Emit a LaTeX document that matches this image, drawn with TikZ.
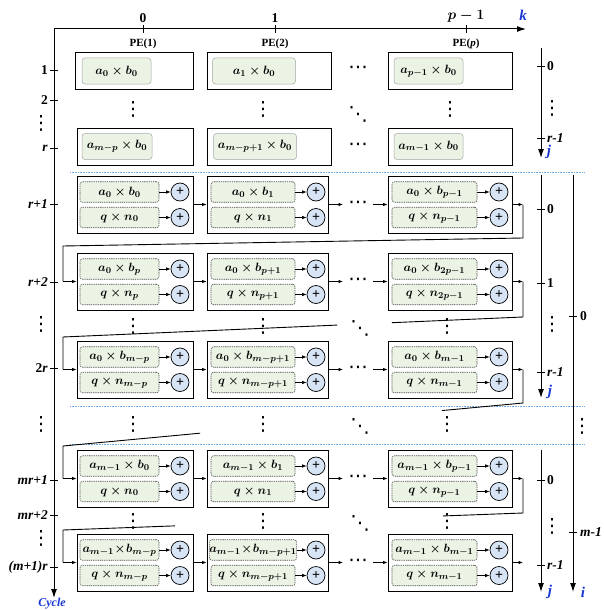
\documentclass[tikz,border=0pt]{standalone}
\usepackage{fontspec}
\setmainfont{Liberation Serif}
\newfontfamily\djv{DejaVu Sans}
\usetikzlibrary{arrows.meta,calc}
\definecolor{kblue}{RGB}{25,55,215}
\definecolor{cellgreen}{RGB}{234,243,228}
\definecolor{addblue}{RGB}{214,228,246}
\definecolor{sepblue}{RGB}{110,170,225}
\newcommand\vdt{⋮}
\newcommand\hdt{⋯}
\newcommand\ddt{⋱}
\newcommand\pemrow[8]{%
  \node[outer, minimum width=116] (#1o1) at (135,{#2+28.5}) {};
  \node[outer, minimum width=121] (#1o2) at (267.5,{#2+28.5}) {};
  \node[outer, minimum width=124] (#1o3) at (450,{#2+28.5}) {};
  \node[cellB, minimum width=79] (#1a1) at (119.5,{#2+16}) {$#3$};
  \node[cellB, minimum width=79] (#1b1) at (119.5,{#2+41.5}) {$#4$};
  \node[addc] (#1p1) at (180,{#2+16}) {+};
  \node[addc] (#1q1) at (180,{#2+41.5}) {+};
  \node[cellB, minimum width=84] (#1a2) at (253,{#2+16}) {$#5$};
  \node[cellB, minimum width=84] (#1b2) at (253,{#2+41.5}) {$#6$};
  \node[addc] (#1p2) at (316,{#2+16}) {+};
  \node[addc] (#1q2) at (316,{#2+41.5}) {+};
  \node[cellB, minimum width=85] (#1a3) at (434.5,{#2+16}) {$#7$};
  \node[cellB, minimum width=85] (#1b3) at (434.5,{#2+41.5}) {$#8$};
  \node[addc] (#1p3) at (499,{#2+16}) {+};
  \node[addc] (#1q3) at (499,{#2+41.5}) {+};
  \foreach \k in {1,2,3}{
    \draw[arr] (#1a\k) -- (#1p\k);
    \draw[arr] (#1b\k) -- (#1q\k);
  }
  \draw[arr] (#1o1.east) -- (#1o2.west);
  \node[dotfont] (#1dots) at (358,{#2+28.5}) {\hdt};
  \coordinate (#1m1) at (343,{#2+28.5});
  \coordinate (#1m2) at (373,{#2+28.5});
  \draw[arr] (#1o2.east) -- (#1m1);
  \draw[arr] (#1m2) -- (#1o3.west);
  \coordinate (#1out) at (523,{#2+28.5});
  \coordinate (#1in) at (63,{#2+28.5});
  \draw[arr] (#1o3.east) -- (#1out);
}
\begin{document}
\begin{tikzpicture}[x=1pt,y=-1pt,
  outer/.style={draw, line width=0.9pt, minimum height=57, inner sep=0},
  topbox/.style={draw, line width=0.9pt, minimum height=37, inner sep=0},
  mfont/.style={font=\fontsize{12.5}{14}\selectfont\boldmath},
  cellA/.style={draw=black!35, line width=0.5pt, fill=cellgreen, rounded corners=3pt, minimum height=26, inner sep=0, mfont},
  cellB/.style={draw=black!70, line width=0.6pt, dash pattern=on 1.3pt off 0.9pt, fill=cellgreen, rounded corners=2.5pt, minimum height=20.5, inner sep=0, mfont},
  addc/.style={circle, draw, line width=0.7pt, fill=addblue, minimum size=18, inner sep=0, font=\bfseries\fontsize{14}{14}\selectfont},
  arr/.style={-{Latex[length=4.5pt,width=3.5pt]}, line width=0.7pt},
  axarr/.style={-{Latex[length=9pt,width=6pt]}, line width=1pt},
  loopline/.style={line width=0.9pt},
  tick/.style={line width=0.9pt},
  lab/.style={font=\bfseries\fontsize{13.5}{15}\selectfont, inner sep=0},
  pelab/.style={font=\bfseries\fontsize{11}{13}\selectfont, inner sep=0},
  axname/.style={font=\bfseries\itshape\fontsize{15}{17}\selectfont, text=kblue, inner sep=0},
  dotfont/.style={font=\djv\fontsize{19.5}{19.5}\selectfont, inner sep=0},
  sep/.style={draw=sepblue, line width=0.8pt, dash pattern=on 0.8pt off 0.8pt}
]
\useasboundingbox (0,0) rectangle (603,610);

% ---- axes ----
\coordinate (O) at (54,29);
\coordinate (kend) at (526,29);
\coordinate (cend) at (54,598);
\draw[axarr] (O) -- (kend);
\draw[axarr] (O) -- (cend);
\node[axname] (klab) at (523,15) {k};
\node[axname, font=\bfseries\itshape\fontsize{12}{14}\selectfont] (cyclab) at (52,604) {Cycle};

\foreach \x/\t/\p [count=\n] in {143/0/PE(1), 275/1/PE(2)}{
  \draw[tick] (\x,25) -- (\x,33);
  \node[lab] (kt\n) at (\x,18) {\t};
  \node[pelab] (pe\n) at (\x,44) {\p};
}
\draw[tick] (466,25) -- (466,33);
\node[lab, font=\fontsize{13.5}{15}\selectfont\boldmath] (kt3) at (466,16) {$p-1$};
\node[pelab] (pe3) at (466,44) {PE(\textit{p})};

% left cycle ticks
\foreach \y/\t [count=\n] in {70/1, 100/2, 148/\textit{r}, 204/\textit{r+1}, 282/\textit{r+2}, 368/2\textit{r}, 480/\textit{mr+1}, 515/\textit{mr+2}, 567/\textit{(m+1)r}}{
  \draw[tick] (50,\y) -- (58,\y);
  \node[lab, anchor=east] (cy\n) at (48,\y) {\t};
}
\foreach \y [count=\n] in {123,324,424,538}{
  \node[dotfont] (cyd\n) at (41,\y) {\vdt};
}

% ---- top section ----
\node[topbox, minimum width=118] (t1o1) at (134,70.5) {};
\node[topbox, minimum width=124] (t1o2) at (269,70.5) {};
\node[topbox, minimum width=124] (t1o3) at (450,70.5) {};
\node[cellA, minimum width=69] (t1c1) at (116.5,71) {$a_0\times b_0$};
\node[cellA, minimum width=83] (t1c2) at (254,71) {$a_1\times b_0$};
\node[cellA, minimum width=69] (t1c3) at (428.5,71) {$a_{p-1}\times b_0$};
\node[dotfont] (t1dots) at (358,70) {\hdt};

\node[topbox, minimum width=116] (t2o1) at (135,146.5) {};
\node[topbox, minimum width=124] (t2o2) at (269,146.5) {};
\node[topbox, minimum width=124] (t2o3) at (450,146.5) {};
\node[cellA, minimum width=70] (t2c1) at (117,146.5) {$a_{m-p}\times b_0$};
\node[cellA, minimum width=83] (t2c2) at (255,146.5) {$a_{m-p+1}\times b_0$};
\node[cellA, minimum width=69] (t2c3) at (428.5,146.5) {$a_{m-1}\times b_0$};
\node[dotfont] (t2dots) at (358,147) {\hdt};

\node[dotfont] (tv1) at (133,109) {\vdt};
\node[dotfont] (tv2) at (263,109) {\vdt};
\node[dotfont] (tv3) at (450,109) {\vdt};
\node[dotfont] (td) at (358,114) {\ddt};

% separators
\draw[sep] (70,172) -- (585,172);
\draw[sep] (70,406) -- (585,406);
\draw[sep] (70,444) -- (585,444);

% ---- middle rows ----
\pemrow{A}{176}{a_0\times b_0}{q\times n_0}{a_0\times b_1}{q\times n_1}{a_0\times b_{p-1}}{q\times n_{p-1}}
\pemrow{B}{253}{a_0\times b_p}{q\times n_p}{a_0\times b_{p+1}}{q\times n_{p+1}}{a_0\times b_{2p-1}}{q\times n_{2p-1}}
\pemrow{C}{341}{a_0\times b_{m-p}}{q\times n_{m-p}}{a_0\times b_{m-p+1}}{q\times n_{m-p+1}}{a_0\times b_{m-1}}{q\times n_{m-1}}
\pemrow{D}{450}{a_{m-1}\times b_0}{q\times n_0}{a_{m-1}\times b_1}{q\times n_1}{a_{m-1}\times b_{p-1}}{q\times n_{p-1}}
\pemrow{E}{534}{a_{m-1}\!\times\! b_{m-p}}{q\times n_{m-p}}{a_{m-1}\!\times\! b_{m-p+1}}{q\times n_{m-p+1}}{a_{m-1}\times b_{m-1}}{q\times n_{m-1}}

% dots between middle rows
\foreach \y/\yd [count=\n] in {326/328, 424/426, 521/523}{
  \node[dotfont] (mv1\n) at (133,\y) {\vdt};
  \node[dotfont] (mv2\n) at (263,\y) {\vdt};
  \node[dotfont] (mv3\n) at (447,\y) {\vdt};
  \node[dotfont] (md\n) at (360,\yd) {\ddt};
}

% ---- feedback loops ----
\coordinate (L1a) at (523,238); \coordinate (L1b) at (63,246);
\draw[loopline] (Aout) -- (L1a) -- (L1b) -- (Bin);
\draw[arr] (Bin) -- (Bo1.west);

\coordinate (L2a) at (523,317); \coordinate (L2b) at (63,337);
\draw[loopline] (Bout) -- (L2a) -- ($(L2a)!0.285!(L2b)$);
\draw[loopline] ($(L2a)!0.404!(L2b)$) -- (L2b) -- (Cin);
\draw[arr] (Cin) -- (Co1.west);

\coordinate (L3a) at (523,403); \coordinate (L3b) at (63,446);
\draw[loopline] (Cout) -- (L3a) -- ($(L3a)!0.176!(L3b)$);
\draw[loopline] ($(L3a)!0.702!(L3b)$) -- (L3b) -- (Din);
\draw[arr] (Din) -- (Do1.west);

\coordinate (L4a) at (523,513); \coordinate (L4b) at (63,530);
\draw[loopline] (Dout) -- (L4a) -- ($(L4a)!0.174!(L4b)$);
\draw[loopline] ($(L4a)!0.757!(L4b)$) -- (L4b) -- (Ein);
\draw[arr] (Ein) -- (Eo1.west);

% ---- right axes ----
\draw[axarr] (541,48) -- (541,158);
\foreach \y/\t [count=\n] in {66/0, 138/\textit{r-1}}{
  \draw[tick] (537,\y) -- (545,\y);
  \node[lab, anchor=west] (ja\n) at (547,\y) {\t};
}
\node[dotfont] (jad) at (552,108) {\vdt};
\node[axname] (jal) at (549,152) {j};

\draw[axarr] (541,175) -- (541,398);
\foreach \y/\t [count=\n] in {209/0, 283/1, 372/\textit{r-1}}{
  \draw[tick] (537,\y) -- (545,\y);
  \node[lab, anchor=west] (jb\n) at (547,\y) {\t};
}
\node[dotfont] (jbd) at (552,324) {\vdt};
\node[axname] (jbl) at (550,392) {j};

\draw[axarr] (541,450) -- (541,592);
\foreach \y/\t [count=\n] in {480/0, 565/\textit{r-1}}{
  \draw[tick] (537,\y) -- (545,\y);
  \node[lab, anchor=west] (jc\n) at (547,\y) {\t};
}
\node[dotfont] (jcd) at (552,526) {\vdt};
\node[axname] (jcl) at (550,592) {j};

\draw[axarr] (573,175) -- (573,592);
\foreach \y/\t [count=\n] in {316/0, 532/\textit{m-1}}{
  \draw[tick] (569,\y) -- (577,\y);
  \node[lab, anchor=west] (ia\n) at (580,\y) {\t};
}
\node[dotfont] (iad) at (582,426) {\vdt};
\node[axname] (ial) at (583,592) {i};
\end{tikzpicture}
\end{document}
